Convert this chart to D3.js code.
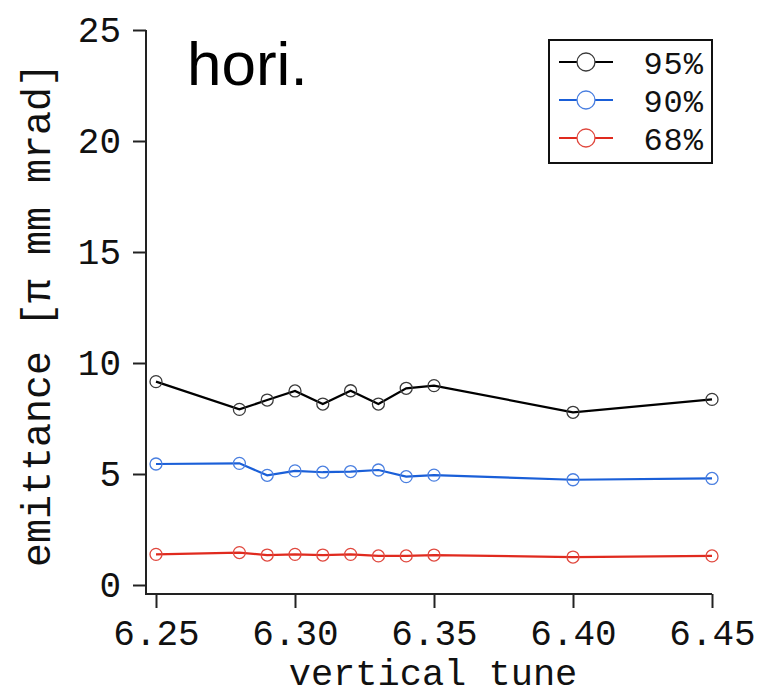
<!DOCTYPE html>
<html>
<head>
<meta charset="utf-8">
<script src="https://cdn.jsdelivr.net/npm/d3@7"></script>
<style>
  html, body { margin: 0; padding: 0; background: #fff; }
  svg { display: block; }
  .mono { font-family: "Courier New", "Liberation Mono", monospace; }
</style>
</head>
<body>
<svg id="chart" width="764" height="694"></svg>
<script>
// Vertical tune scan points
const tunes = [6.25, 6.28, 6.29, 6.30, 6.31, 6.32, 6.33, 6.34, 6.35, 6.40, 6.45];

// Horizontal emittance for each beam fraction [π mm mrad]
const emit95 = [9.16, 7.91, 8.33, 8.74, 8.15, 8.75, 8.15, 8.86, 8.98, 7.78, 8.36];
const emit90 = [5.45, 5.48, 4.94, 5.14, 5.08, 5.11, 5.18, 4.88, 4.95, 4.74, 4.80];
const emit68 = [1.38, 1.46, 1.35, 1.38, 1.35, 1.38, 1.31, 1.31, 1.35, 1.26, 1.31];

const seriesNames = ["95%", "90%", "68%"];
const xTicks = [6.25, 6.30, 6.35, 6.40, 6.45];
const yTicks = [0, 5, 10, 15, 20, 25];

const lineColors = ["#000000", "#1a5fd8", "#e02a1e"];
const markerColors = ["#3a3a3a", "#4a7fe0", "#e0483e"];

const series = [emit95, emit90, emit68].map((vals, i) => ({
  name: seriesNames[i],
  line: lineColors[i],
  marker: markerColors[i],
  points: tunes.map((t, j) => ({ x: t, y: vals[j] }))
}));

const svg = d3.select("#chart");

const x = d3.scaleLinear().domain([6.25, 6.45]).range([156, 712]);
const y = d3.scaleLinear().domain([0, 25]).range([585, 30]);

const axisX0 = 146;   // left edge of the frame (y axis line)
const axisY0 = 594;   // bottom edge of the frame (x axis line)

// Axes
const xAxis = svg.append("g")
  .attr("transform", `translate(0,${axisY0})`)
  .call(d3.axisBottom(x).tickValues(xTicks).tickFormat(d3.format(".2f"))
        .tickSize(14).tickSizeOuter(0).tickPadding(11));
const yAxis = svg.append("g")
  .attr("transform", `translate(${axisX0},0)`)
  .call(d3.axisLeft(y).tickValues(yTicks).tickFormat(d3.format("d"))
        .tickSize(13).tickSizeOuter(0).tickPadding(12));

[xAxis, yAxis].forEach(g => {
  g.select(".domain").remove();
  g.selectAll("line").attr("stroke", "#222").attr("stroke-width", 2);
  g.selectAll("text").attr("class", "mono").attr("fill", "#111");
});
xAxis.selectAll("text").attr("dy", "0.72em").style("font-size", "36px");
yAxis.selectAll("text").style("font-size", "36px");

// Axis lines forming the L-shaped frame
svg.append("path")
  .attr("d", `M${axisX0},${y(25)}V${axisY0}H${x(6.45)}`)
  .attr("fill", "none").attr("stroke", "#222").attr("stroke-width", 2);

// Axis titles
svg.append("text").attr("class", "mono")
  .attr("x", 433).attr("y", 685)
  .attr("text-anchor", "middle")
  .style("font-size", "37px").attr("fill", "#111")
  .text("vertical tune");

svg.append("text").attr("class", "mono")
  .attr("transform", "translate(50,315) rotate(-90)")
  .attr("text-anchor", "middle")
  .style("font-size", "40px").attr("fill", "#111")
  .text("emittance [π mm mrad]");

// Panel label
svg.append("text")
  .attr("x", 187).attr("y", 85)
  .style("font-family", "'Liberation Sans', Arial, sans-serif")
  .style("font-size", "62px").attr("fill", "#000")
  .text("hori.");

// Series lines and markers
const line = d3.line().x(d => x(d.x)).y(d => y(d.y));

series.forEach(s => {
  svg.append("path")
    .datum(s.points)
    .attr("d", line)
    .attr("fill", "none")
    .attr("stroke", s.line)
    .attr("stroke-width", 2.2);
  svg.append("g").selectAll("circle")
    .data(s.points)
    .join("circle")
    .attr("cx", d => x(d.x))
    .attr("cy", d => y(d.y))
    .attr("r", 6)
    .attr("fill", "none")
    .attr("stroke", s.marker)
    .attr("stroke-width", 1.3);
});

// Legend
const legend = svg.append("g");
legend.append("rect")
  .attr("x", 549).attr("y", 40).attr("width", 163).attr("height", 123)
  .attr("fill", "#fff").attr("stroke", "#111").attr("stroke-width", 2);

const rowY = d3.scalePoint().domain(seriesNames).range([62, 138]);
series.forEach(s => {
  const ry = rowY(s.name);
  legend.append("line")
    .attr("x1", 559).attr("x2", 613).attr("y1", ry).attr("y2", ry)
    .attr("stroke", s.line).attr("stroke-width", 2.2);
  legend.append("circle")
    .attr("cx", 586).attr("cy", ry).attr("r", 9)
    .attr("fill", "#fff").attr("stroke", s.marker).attr("stroke-width", 1.3);
  legend.append("text").attr("class", "mono")
    .attr("x", 704).attr("y", ry).attr("dy", "0.36em")
    .attr("text-anchor", "end")
    .style("font-size", "32px").style("letter-spacing", "1px").attr("fill", "#111")
    .text(s.name);
});
</script>
</body>
</html>
